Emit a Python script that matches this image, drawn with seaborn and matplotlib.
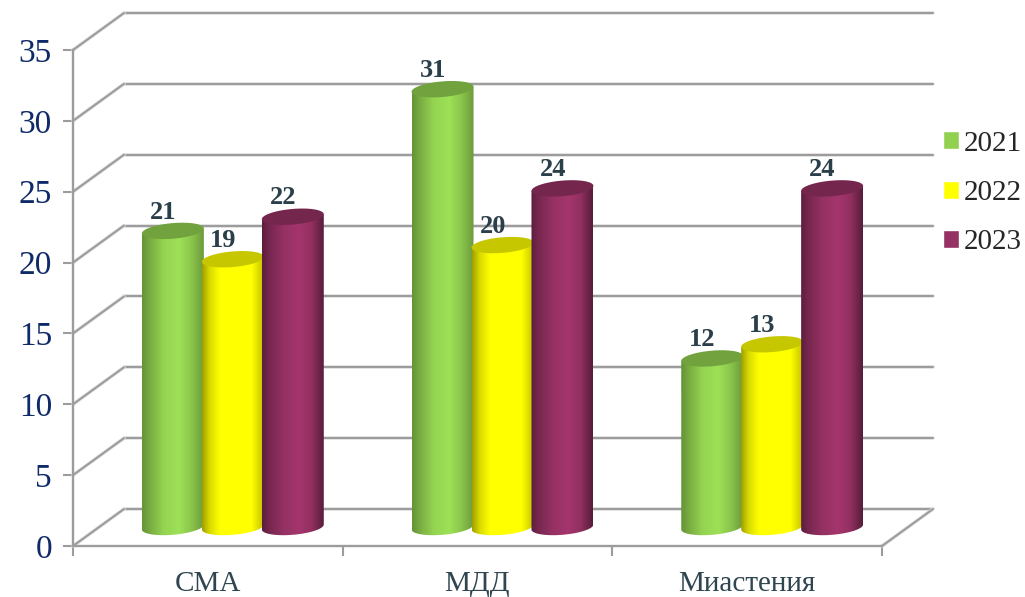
import numpy as np
import pandas as pd
import seaborn as sns
import matplotlib.pyplot as plt
import matplotlib.patheffects as pe
from matplotlib.path import Path
from matplotlib.patches import Polygon
from matplotlib.transforms import ScaledTranslation

categories = ['СМА', 'МДД', 'Миастения']
years = ['2021', '2022', '2023']
values_2021 = [21, 31, 12]
values_2022 = [19, 20, 13]
values_2023 = [22, 24, 24]
y_ticks = [0, 5, 10, 15, 20, 25, 30, 35]
colors = ['#92d050', '#ffff00', '#953163']

GRID = '#9c9c9c'
SERIF = ['Liberation Serif', 'DejaVu Serif']

df = pd.DataFrame({
    'category': categories * 3,
    'year': np.repeat(years, 3),
    'value': values_2021 + values_2022 + values_2023,
})

sns.set_style('white')
plt.rcParams['font.family'] = SERIF

W, H = 1025, 597
fig = plt.figure(figsize=(W / 100, H / 100), dpi=100)
ax = fig.add_axes([73 / W, (H - 546) / H, (882 - 73) / W, (546 - 50) / H])

sns.barplot(data=df, x='category', y='value', hue='year', palette=colors,
            width=0.667, gap=0, saturation=1, ax=ax)
ax.set_xlim(-0.5, 2.5)
ax.set_ylim(0, 35)
ax.set_xlabel('')
ax.set_ylabel('')

# pixels per data unit, the cylinder maths below is easier in pixels
sx = (882 - 73) / 3
sy = (546 - 50) / 35


def shifted(px, py):
    return ax.transData + ScaledTranslation(px / 100, py / 100, fig.dpi_scale_trans)


# fake 3d walls: back lines plus the diagonals running to the axis
depth_x, depth_y = 51, 37
back = shifted(depth_x, depth_y)
stroke = [pe.withStroke(linewidth=2.6, foreground='#e2e2e2')]
for tick in y_ticks:
    ax.plot([-0.5, 2.5], [tick, tick], color=GRID, lw=1.5, transform=back,
            clip_on=False, zorder=1, path_effects=stroke)
    ax.plot([-0.5, -0.5 + depth_x / sx], [tick, tick + depth_y / sy], color=GRID, lw=1.5,
            clip_on=False, zorder=1, path_effects=stroke)
ax.plot([2.5, 2.5 + depth_x / sx], [0, depth_y / sy], color=GRID, lw=1.5,
        clip_on=False, zorder=1, path_effects=stroke)

# shading across a cylinder, left edge to right edge
shade_x = [0, 0.12, 0.35, 0.6, 0.8, 1]
shade_k = {
    0: [0.70, 0.82, 1.02, 1.08, 0.95, 0.74],
    1: [0.62, 0.85, 1.05, 1.10, 1.00, 0.76],
    2: [0.62, 0.80, 1.00, 1.10, 0.98, 0.58],
}

cyl = shifted(25, 17.5)
t = np.linspace(0, 2 * np.pi, 90)
half_h = 7.8
tilt = 2.5
base_lift = 1.5 / sy
order = 10

for i, container in enumerate(ax.containers):
    base = np.array(plt.matplotlib.colors.to_rgb(colors[i]))
    k = np.interp(np.linspace(0, 1, 200), shade_x, shade_k[i])
    grad = np.clip(base[None, None, :] * k[None, :, None], 0, 1)
    for bar, value in zip(container, container.datavalues):
        value = int(value)
        bar.set_visible(False)
        x0, w = bar.get_x(), bar.get_width()
        cx = x0 + w / 2
        # neighbours overlap by a pixel or two
        a = w / 2 + 1 / sx
        ex = a * np.cos(t)
        ey = (half_h * np.sin(t) + tilt * np.cos(t)) / sy
        # body outline: top edge across, then the lower half of the base ellipse
        low = np.sin(t) <= 0
        arc = np.argsort(ex[low])
        body = np.vstack([
            [cx - a, value - tilt / sy],
            np.column_stack([cx + ex[low][arc], ey[low][arc] + base_lift]),
            [cx + a, value + tilt / sy],
        ])
        im = ax.imshow(grad, extent=(cx - a, cx + a, -1, value + 1), aspect='auto',
                       transform=cyl, zorder=order, interpolation='bilinear')
        im.set_clip_path(Path(np.vstack([body, body[0]]), closed=True), transform=cyl)
        cap = Polygon(np.column_stack([cx + ex, value + ey]), closed=True,
                      facecolor=base * 0.78, edgecolor='none', transform=cyl,
                      clip_on=False, zorder=order + 0.5)
        ax.add_patch(cap)
        ax.annotate(str(value), xy=(cx, value), xycoords=cyl, xytext=(-7, 13.5),
                    textcoords='offset points', ha='center', va='center',
                    fontsize=19, fontweight='bold', color='#2b3f4a', zorder=50,
                    annotation_clip=False)
    order += 1

ax.set_xlim(-0.5, 2.5)
ax.set_ylim(0, 35)

sns.despine(ax=ax)
for side in ['left', 'bottom']:
    ax.spines[side].set_color(GRID)
    ax.spines[side].set_linewidth(1.7)
    ax.spines[side].set_zorder(2)

ax.set_yticks(y_ticks)
ax.set_yticklabels([str(v) for v in y_ticks], fontsize=24, color='#0f2a68')
ax.tick_params(axis='y', length=7.2, width=1.5, color=GRID, pad=8, left=True)
ax.set_xticks([-0.5, 0.5, 1.5, 2.5])
ax.set_xticklabels([])
ax.set_xticks([0, 1, 2], labels=categories, minor=True)
ax.tick_params(axis='x', which='major', length=7.2, width=1.5, color=GRID, bottom=True)
ax.tick_params(axis='x', which='minor', length=0, pad=18, labelsize=21,
               labelcolor='#2f4550')

sns.move_legend(ax, 'center left', bbox_to_anchor=(943 / W, (H - 193) / H),
                bbox_transform=fig.transFigure, title=None, frameon=False,
                fontsize=21, handlelength=0.56, handleheight=0.56,
                handletextpad=0.14, labelspacing=0.8, borderpad=0, borderaxespad=0)

fig.savefig('out.png', dpi=100)
